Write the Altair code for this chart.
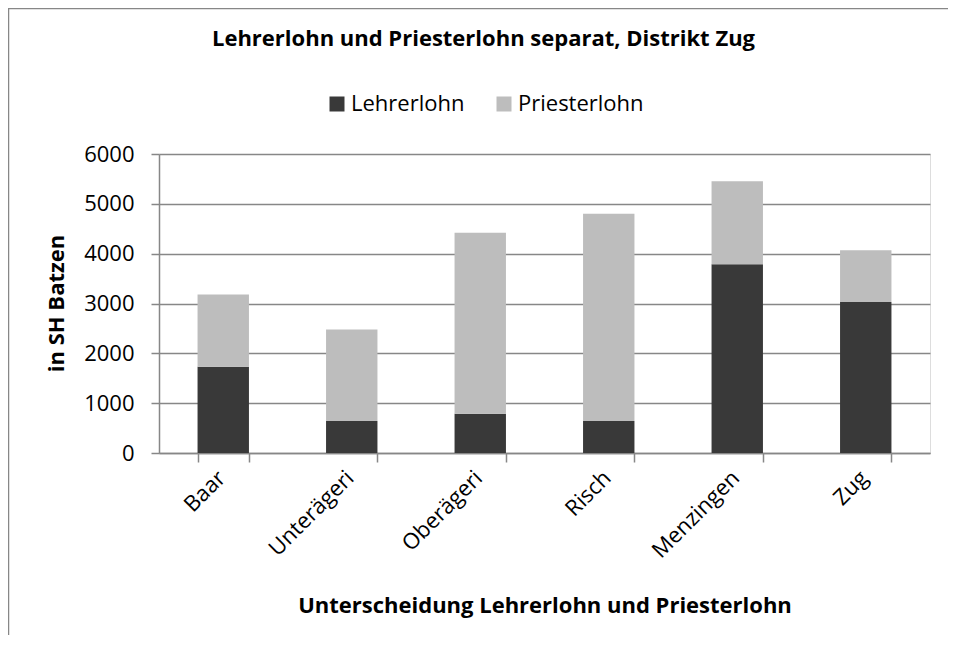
import altair as alt
import pandas as pd

orte = ["Baar", "Unterägeri", "Oberägeri", "Risch", "Menzingen", "Zug"]
lehrerlohn = [1730, 640, 790, 640, 3790, 3030]
priesterlohn = [1450, 1840, 3630, 4160, 1665, 1040]
serien = ["Lehrerlohn", "Priesterlohn"]
farben = ["#393939", "#bdbdbd"]
y_ticks = [0, 1000, 2000, 3000, 4000, 5000, 6000]

rows = []
for i, o in enumerate(orte):
    rows.append({"Ort": o, "Serie": serien[0], "Wert": lehrerlohn[i], "k": 0})
    rows.append({"Ort": o, "Serie": serien[1], "Wert": priesterlohn[i], "k": 1})
df = pd.DataFrame(rows)

FONT = "Open Sans"
GREY = "#878787"

bars = alt.Chart(df).mark_bar().encode(
    x=alt.X(
        "Ort:N",
        sort=orte,
        scale=alt.Scale(paddingInner=0.6, paddingOuter=0.3),
        axis=alt.Axis(
            title="Unterscheidung Lehrerlohn und Priesterlohn",
            labelAngle=-45,
            labelFontSize=22,
            labelFont=FONT,
            labelColor="black",
            labelPadding=5,
            labelOffset=-9,
            tickSize=9,
            tickBand="extent",
            tickColor=GREY,
            tickWidth=1.5,
            domainColor=GREY,
            domainWidth=1.5,
            titleFont=FONT,
            titleFontSize=22,
            titleFontWeight="bold",
            titleColor="black",
            titleBaseline="alphabetic",
            titleY=159,
        ),
    ),
    y=alt.Y(
        "Wert:Q",
        stack="zero",
        scale=alt.Scale(domain=[0, 6000], nice=False),
        axis=alt.Axis(
            title="in SH Batzen",
            values=y_ticks,
            format="d",
            labelFontSize=22,
            labelFont=FONT,
            labelColor="black",
            labelPadding=17,
            tickSize=8,
            tickColor=GREY,
            tickWidth=1.5,
            domainColor=GREY,
            domainWidth=1.5,
            grid=True,
            gridColor=GREY,
            gridWidth=1.5,
            titleFont=FONT,
            titleFontSize=22,
            titleFontWeight="bold",
            titleColor="black",
            titleBaseline="alphabetic",
            titleAngle=-90,
            titleAlign="center",
            titleX=-96,
            titleY=149,
        ),
    ),
    color=alt.Color(
        "Serie:N",
        scale=alt.Scale(domain=serien, range=farben),
        legend=alt.Legend(
            title=None,
            orient="none",
            legendX=167,
            legendY=-61,
            direction="horizontal",
            symbolType="square",
            symbolSize=225,
            symbolStrokeWidth=0,
            labelFont=FONT,
            labelFontSize=22,
            labelColor="black",
            labelOffset=3,
            columnPadding=28,
        ),
    ),
    order=alt.Order("k:Q"),
)

frame = alt.Chart(pd.DataFrame({"a": [0]})).mark_rect(
    fill="transparent", stroke=GREY, strokeWidth=1.5
).encode(
    x=alt.value(-150.5),
    x2=alt.value(820),
    y=alt.value(-145.5),
    y2=alt.value(520),
)

chart = alt.layer(frame, bars).properties(
    width=771,
    height=299,
    padding={"left": 151, "top": 146, "right": 18, "bottom": 182},
    autosize=alt.AutoSizeParams(type="none"),
    title=alt.TitleParams(
        "Lehrerlohn und Priesterlohn separat, Distrikt Zug",
        font=FONT,
        fontSize=22,
        fontWeight="bold",
        color="black",
        anchor="middle",
        frame="group",
        baseline="alphabetic",
        offset=0,
        dy=60,
        dx=-61,
    ),
).configure_view(stroke=None).configure(background="white")

chart.save("out.html", embed_options={"renderer": "svg", "actions": False})
